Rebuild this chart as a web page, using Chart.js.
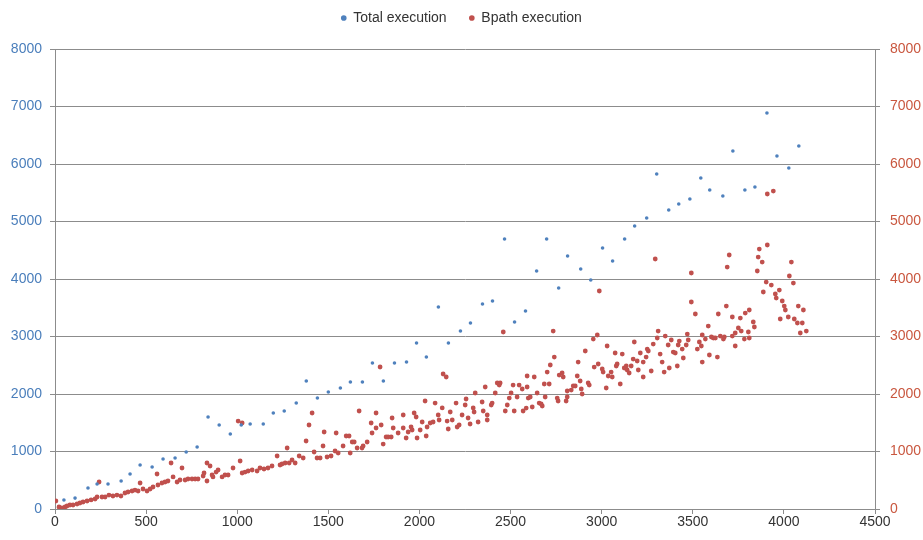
<!DOCTYPE html>
<html>
<head>
<meta charset="utf-8">
<script src="https://cdn.jsdelivr.net/npm/chart.js@4.4.1/dist/chart.umd.min.js"></script>
<style>
  html, body { margin: 0; padding: 0; background: #fff; }
</style>
</head>
<body>
<canvas id="execChart" width="923" height="540"></canvas>
<script>
// x axis / y axis ticks
const xTicks = [0, 500, 1000, 1500, 2000, 2500, 3000, 3500, 4000, 4500];
const yTicks = [0, 1000, 2000, 3000, 4000, 5000, 6000, 7000, 8000];
const seriesNames = ["Total execution", "Bpath execution"];

// total execution, [x, y]
const totalExec = [
  [49,157],[110,190],[181,365],[231,435],[291,435],[363,487],[412,609],[467,765],[533,730],[593,870],
  [659,887],[720,991],[780,1078],[840,1600],[901,1461],[962,1304],[1022,1461],[1071,1478],[1143,1478],[1198,1670],
  [1258,1704],[1324,1843],[1379,2226],[1440,1930],[1500,2035],[1566,2104],[1621,2209],[1687,2209],[1742,2539],[1802,2226],
  [1863,2539],[1929,2557],[1984,2887],[2038,2643],[2104,3513],[2159,2887],[2225,3096],[2280,3235],[2346,3565],[2401,3617],
  [2467,4696],[2522,3252],[2582,3443],[2643,4139],[2698,4696],[2764,3843],[2813,4400],[2885,4174],[2940,3983],[3005,4539],
  [3060,4313],[3126,4696],[3181,4922],[3247,5061],[3302,5826],[3368,5200],[3423,5304],[3484,5391],[3544,5757],[3593,5548],
  [3665,5443],[3720,6226],[3786,5548],[3841,5600],[3907,6887],[3962,6139],[4027,5930],[4082,6313]
];

// bpath execution, [x, y]
const bpathExec = [
  [5,139],[22,35],[38,17],[55,35],[66,52],[82,70],[99,70],[121,87],[137,104],[154,122],
  [176,139],[198,157],[220,174],[231,209],[242,470],[258,209],[275,209],[296,243],[318,226],[340,243],
  [362,226],[384,278],[401,296],[423,313],[439,330],[467,452],[456,313],[483,348],[505,313],[522,348],
  [538,383],[560,609],[565,417],[587,452],[604,470],[637,800],[620,487],[648,557],[670,470],[697,713],
  [686,504],[714,504],[730,522],[752,522],[769,522],[785,522],[813,574],[818,626],[834,800],[851,748],
  [834,487],[867,557],[884,643],[895,678],[862,591],[917,557],[933,591],[950,591],[977,713],[1005,1530],
  [1016,835],[1027,1496],[1027,626],[1043,643],[1060,661],[1082,678],[1109,661],[1125,713],[1147,696],[1169,713],
  [1191,748],[1219,922],[1235,765],[1263,800],[1274,1061],[1285,800],[1246,783],[1301,852],[1318,800],[1340,922],
  [1362,887],[1378,1183],[1394,1461],[1411,1670],[1422,991],[1438,887],[1455,887],[1471,1096],[1477,1339],[1493,904],
  [1515,922],[1537,1009],[1543,1322],[1554,974],[1581,1096],[1598,1270],[1614,1270],[1620,974],[1631,1165],[1642,1165],
  [1658,1061],[1669,1704],[1685,1061],[1691,1096],[1713,1165],[1735,1496],[1740,1322],[1762,1409],[1762,1670],[1784,2470],
  [1790,1461],[1801,1130],[1817,1252],[1828,1252],[1845,1252],[1850,1583],[1856,1409],[1883,1322],[1911,1635],[1911,1409],
  [1927,1235],[1938,1339],[1954,1426],[1960,1374],[1971,1670],[1982,1600],[1987,1235],[2004,1374],[2015,1513],[2031,1878],
  [2037,1270],[2042,1426],[2059,1496],[2075,1513],[2086,1843],[2103,1635],[2108,1548],[2125,1757],[2130,2348],[2147,2296],
  [2152,1530],[2158,1391],[2169,1687],[2180,1548],[2201,1843],[2207,1426],[2218,1461],[2234,1635],[2251,1809],[2256,1913],
  [2267,1583],[2278,1478],[2295,1757],[2300,1687],[2306,2017],[2322,1513],[2344,1861],[2350,1704],[2361,2122],[2372,1635],
  [2372,1548],[2394,1809],[2399,1843],[2416,2017],[2427,2191],[2443,2191],[2438,2156],[2460,3078],[2471,1704],[2482,1809],
  [2493,1930],[2503,2017],[2514,2156],[2520,1704],[2536,1948],[2547,2156],[2564,2087],[2569,1704],[2586,1756],[2591,2122],
  [2591,2313],[2597,1930],[2619,1774],[2630,2296],[2646,2017],[2657,1843],[2608,1948],[2668,1826],[2674,1791],[2685,2174],
  [2690,1948],[2701,2382],[2712,2174],[2718,2504],[2734,3095],[2740,2643],[2756,1930],[2761,1878],[2767,2330],[2783,2365],
  [2789,2296],[2805,1878],[2811,1948],[2811,2052],[2833,2069],[2844,2139],[2855,2139],[2866,2313],[2871,2556],[2882,2226],
  [2888,2087],[2893,2000],[2910,2748],[2926,2191],[2932,2156],[2954,2956],[2959,2469],[2976,3026],[2981,2522],[2987,3791],
  [3003,2435],[3008,2382],[3025,2104],[3030,2835],[3036,2313],[3052,2382],[3058,2296],[3074,2713],[3080,2487],[3085,2522],
  [3102,2174],[3113,2695],[3124,2452],[3135,2487],[3140,2417],[3151,2365],[3162,2487],[3173,2608],[3179,2904],[3195,2574],
  [3201,2417],[3212,2713],[3228,2556],[3228,2296],[3244,2643],[3250,2782],[3256,2748],[3272,2400],[3283,2869],[3294,4348],
  [3305,2974],[3310,3095],[3321,2695],[3332,2556],[3343,2382],[3349,3008],[3365,2852],[3371,2452],[3382,2939],[3393,2730],
  [3404,2713],[3415,2487],[3420,2852],[3426,2921],[3442,2782],[3448,2626],[3464,2852],[3470,3043],[3475,2939],[3492,4104],
  [3492,3600],[3514,3391],[3525,2782],[3536,2904],[3547,2835],[3552,3026],[3552,2556],[3569,2956],[3585,3182],[3591,2678],
  [3602,2991],[3613,2974],[3624,2974],[3635,2643],[3640,3391],[3651,3008],[3668,2956],[3673,2991],[3684,3530],[3689,4208],
  [3700,4417],[3717,3008],[3717,3339],[3733,2835],[3733,3061],[3750,3148],[3761,3321],[3766,3095],[3783,2956],[3788,3408],
  [3805,3078],[3810,3461],[3810,2974],[3832,3252],[3838,3165],[3854,4139],[3859,4382],[3865,4521],[3881,4295],[3887,3774],
  [3903,3947],[3909,4591],[3931,3895],[3953,3739],[3958,3669],[3975,3808],[3980,3304],[3991,3617],[4002,3530],[4008,3461],
  [4024,3339],[4030,4052],[4041,4295],[4052,3930],[4057,3304],[4074,3235],[4079,3530],[4090,3061],[4101,3235],[4107,3461],
  [4123,3095],[3909,5478],[3942,5530]
];

const gridColor = "#8c8c8c";
const tickFont = { family: "'Liberation Sans', Arial, sans-serif", size: 14 };
const plainNum = (v) => String(v);

// make room under the legend like the excel chart
const legendGap = {
  id: "legendGap",
  beforeInit(chart) {
    const origFit = chart.legend.fit;
    chart.legend.fit = function () {
      origFit.bind(chart.legend)();
      this.height = 49;
    };
  },
};

const ctx = document.getElementById("execChart").getContext("2d");
const execChart = new Chart(ctx, {
  type: "scatter",
  data: {
    datasets: [
      {
        label: seriesNames[0],
        data: totalExec.map((p) => ({ x: p[0], y: p[1] })),
        backgroundColor: "#4f81bd",
        borderColor: "#4f81bd",
        pointRadius: 1.8,
        borderWidth: 0,
        yAxisID: "y",
      },
      {
        label: seriesNames[1],
        data: bpathExec.map((p) => ({ x: p[0], y: p[1] })),
        backgroundColor: "#c0504d",
        borderColor: "#c0504d",
        pointRadius: 2.4,
        borderWidth: 0,
        yAxisID: "y2",
      },
    ],
  },
  options: {
    responsive: false,
    animation: false,
    layout: { padding: 0 },
    plugins: {
      tooltip: { enabled: false },
      legend: {
        position: "top",
        labels: {
          usePointStyle: true,
          pointStyle: "circle",
          boxWidth: 5,
          boxHeight: 4,
          padding: 11,
          color: "#333",
          font: { family: "'Liberation Sans', Arial, sans-serif", size: 14 },
          // a bit more space between the two entries
          generateLabels: (chart) =>
            Chart.defaults.plugins.legend.labels.generateLabels(chart).map((item, i) => {
              if (i === 0) item.text = item.text + "   ";
              return item;
            }),
        },
      },
    },
    scales: {
      x: {
        type: "linear",
        min: xTicks[0],
        max: xTicks[xTicks.length - 1],
        afterBuildTicks: (s) => { s.ticks = xTicks.map((v) => ({ value: v })); },
        ticks: { color: "#333", font: tickFont, padding: 0, maxRotation: 0, callback: plainNum },
        grid: { drawOnChartArea: false, tickLength: 5, color: gridColor },
        border: { color: gridColor },
        afterFit: (s) => { s.height = 31; },
      },
      y: {
        position: "left",
        min: yTicks[0],
        max: yTicks[yTicks.length - 1],
        afterBuildTicks: (s) => { s.ticks = yTicks.map((v) => ({ value: v })); },
        ticks: { color: "#4a7ebb", font: tickFont, padding: 8, callback: plainNum },
        grid: { color: gridColor, tickLength: 5 },
        border: { color: gridColor },
        afterFit: (s) => { s.width = 55; },
      },
      y2: {
        position: "right",
        min: yTicks[0],
        max: yTicks[yTicks.length - 1],
        afterBuildTicks: (s) => { s.ticks = yTicks.map((v) => ({ value: v })); },
        ticks: { color: "#c9573f", font: tickFont, padding: 10, callback: plainNum },
        grid: { drawOnChartArea: false, color: gridColor, tickLength: 5 },
        border: { color: gridColor },
        afterFit: (s) => { s.width = 48; },
      },
    },
  },
  plugins: [legendGap],
});
</script>
</body>
</html>
